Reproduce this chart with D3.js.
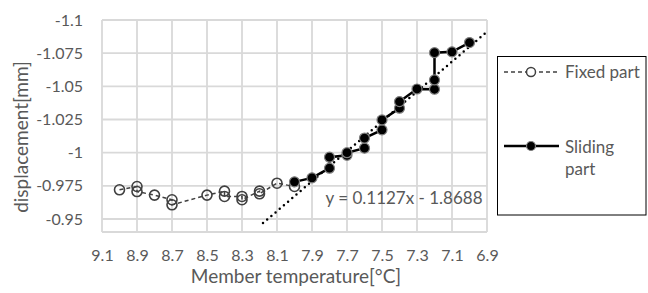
<!DOCTYPE html>
<html>
<head>
<meta charset="utf-8">
<script src="https://cdn.jsdelivr.net/npm/d3@7"></script>
<style>
  html, body { margin: 0; padding: 0; background: #fff; }
  svg { display: block; }
  text { font-family: Lato, "Open Sans", sans-serif; fill: #595959; }
</style>
</head>
<body>
<svg id="chart" width="648" height="293"></svg>
<script>
// ---- data ----
const fixedTemp = [9.0, 8.9, 8.9, 8.8, 8.7, 8.7, 8.5, 8.4, 8.4, 8.3, 8.3, 8.2, 8.2, 8.1, 8.0];
const fixedDisp = [-0.972, -0.9745, -0.9707, -0.968, -0.9645, -0.9607, -0.968, -0.971, -0.967, -0.967, -0.9645, -0.971, -0.969, -0.977, -0.9745];
const slidingTemp = [8.0, 7.9, 7.8, 7.8, 7.7, 7.7, 7.6, 7.6, 7.5, 7.5, 7.4, 7.4, 7.3, 7.2, 7.2, 7.2, 7.1, 7.0];
const slidingDisp = [-0.978, -0.981, -0.9883, -0.9966, -0.998, -1.0, -1.0034, -1.011, -1.0172, -1.0247, -1.0335, -1.0385, -1.048, -1.0478, -1.0548, -1.0754, -1.076, -1.083];
const trendSlope = 0.1127, trendIntercept = -1.8688;
const trendRange = [8.18, 6.9];
const xTicks = [9.1, 8.9, 8.7, 8.5, 8.3, 8.1, 7.9, 7.7, 7.5, 7.3, 7.1, 6.9];
const yTicks = [-1.1, -1.075, -1.05, -1.025, -1, -0.975, -0.95];
const seriesNames = ["Fixed part", ["Sliding", "part"]];
const eqLabel = "y = 0.1127x - 1.8688";

// ---- layout ----
const svg = d3.select("#chart");
const plot = { left: 102, right: 487, top: 20, bottom: 232 };
const x = d3.scaleLinear().domain([9.1, 6.9]).range([plot.left, plot.right]);
const y = d3.scaleLinear().domain([-1.1, -0.9402]).range([plot.top, plot.bottom]);

const grid = svg.append("g");
grid.selectAll("line.v").data(xTicks).join("line")
  .attr("x1", d => x(d)).attr("x2", d => x(d))
  .attr("y1", plot.top).attr("y2", plot.bottom)
  .attr("stroke", "#d9d9d9").attr("stroke-width", 1.8);
grid.selectAll("line.h").data(yTicks).join("line")
  .attr("x1", plot.left).attr("x2", plot.right)
  .attr("y1", d => y(d)).attr("y2", d => y(d))
  .attr("stroke", "#d9d9d9").attr("stroke-width", 1.8);
grid.append("line").attr("x1", plot.left).attr("x2", plot.right)
  .attr("y1", plot.bottom).attr("y2", plot.bottom)
  .attr("stroke", "#d9d9d9").attr("stroke-width", 1.8);

// axes via d3 axis (labels only)
const xAxis = svg.append("g").attr("transform", `translate(0,${plot.bottom})`)
  .call(d3.axisBottom(x).tickValues(xTicks).tickSize(0).tickPadding(18).tickFormat(d3.format(".1f")));
const yAxis = svg.append("g").attr("transform", `translate(${plot.left},0)`)
  .call(d3.axisLeft(y).tickValues(yTicks).tickSize(0).tickPadding(19).tickFormat(d => String(d)));
[xAxis, yAxis].forEach(a => {
  a.select(".domain").remove();
  a.selectAll("text").attr("font-size", 16).attr("font-family", "Lato, sans-serif").attr("fill", "#595959");
});

// axis titles
svg.append("text").attr("x", 296).attr("y", 283).attr("text-anchor", "middle")
  .attr("font-size", 19).text("Member temperature[°C]");
svg.append("text").attr("transform", "translate(28,137) rotate(-90)").attr("text-anchor", "middle")
  .attr("font-size", 19).text("displacement[mm]");

// trendline
const trendData = trendRange.map(t => [t, trendSlope * t + trendIntercept]);
svg.append("path").datum(trendData)
  .attr("d", d3.line().x(d => x(d[0])).y(d => y(d[1])))
  .attr("stroke", "#000").attr("stroke-width", 2.5).attr("stroke-linecap", "round")
  .attr("stroke-dasharray", "0 5.5").attr("fill", "none");

// series
const fixed = fixedTemp.map((t, i) => [t, fixedDisp[i]]);
const sliding = slidingTemp.map((t, i) => [t, slidingDisp[i]]);
const line = d3.line().x(d => x(d[0])).y(d => y(d[1]));

svg.append("path").datum(fixed).attr("d", line)
  .attr("stroke", "#404040").attr("stroke-width", 1.5).attr("stroke-dasharray", "4 3").attr("fill", "none");
svg.append("g").selectAll("circle").data(fixed).join("circle")
  .attr("cx", d => x(d[0])).attr("cy", d => y(d[1])).attr("r", 5)
  .attr("fill", "none").attr("stroke", "#404040").attr("stroke-width", 1.6);

svg.append("path").datum(sliding).attr("d", line)
  .attr("stroke", "#000").attr("stroke-width", 2.5).attr("fill", "none");
svg.append("g").selectAll("circle").data(sliding).join("circle")
  .attr("cx", d => x(d[0])).attr("cy", d => y(d[1])).attr("r", 5)
  .attr("fill", "#000").attr("stroke", "#7f7f7f").attr("stroke-width", 1.2);

// equation label
svg.append("text").attr("x", 404).attr("y", 204).attr("text-anchor", "middle")
  .attr("font-size", 17).text(eqLabel);

// legend
const lg = svg.append("g");
lg.append("rect").attr("x", 497.5).attr("y", 56.5).attr("width", 148.5).attr("height", 158.5)
  .attr("fill", "#fff").attr("stroke", "#000").attr("stroke-width", 1);
lg.append("line").attr("x1", 504).attr("x2", 559).attr("y1", 72).attr("y2", 72)
  .attr("stroke", "#404040").attr("stroke-width", 1.5).attr("stroke-dasharray", "4 3");
lg.append("circle").attr("cx", 531).attr("cy", 72).attr("r", 4.5)
  .attr("fill", "#fff").attr("stroke", "#404040").attr("stroke-width", 1.5);
lg.append("text").attr("x", 565).attr("y", 72).attr("dy", "0.35em").attr("font-size", 17).text(seriesNames[0]);
lg.append("line").attr("x1", 504).attr("x2", 559).attr("y1", 146).attr("y2", 146)
  .attr("stroke", "#000").attr("stroke-width", 2.5);
lg.append("circle").attr("cx", 531).attr("cy", 146).attr("r", 4.5)
  .attr("fill", "#000").attr("stroke", "#7f7f7f").attr("stroke-width", 1.2);
lg.append("text").attr("x", 565).attr("y", 147).attr("dy", "0.35em").attr("font-size", 17).text(seriesNames[1][0]);
lg.append("text").attr("x", 565).attr("y", 169).attr("dy", "0.35em").attr("font-size", 17).text(seriesNames[1][1]);
</script>
</body>
</html>
